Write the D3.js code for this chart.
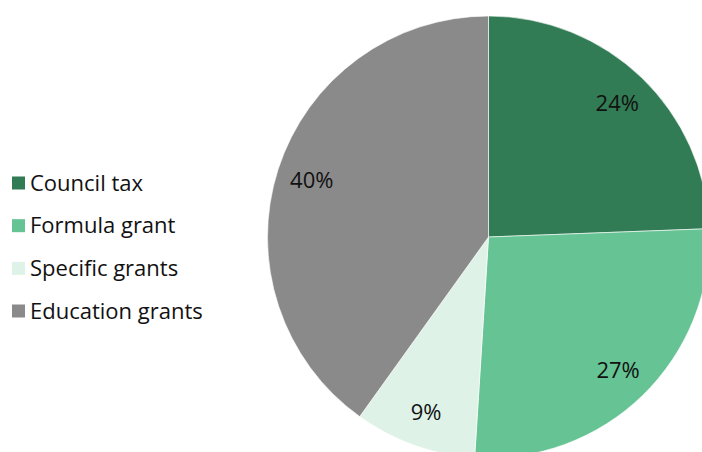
<!DOCTYPE html>
<html>
<head>
<meta charset="utf-8">
<script src="https://cdn.jsdelivr.net/npm/d3@7"></script>
<style>
  body { margin: 0; background: #fff; }
  svg { display: block; font-family: "Open Sans", "Noto Sans", sans-serif; }
</style>
</head>
<body>
<div class="chart"></div>
<script>
var categories = ['Council tax', 'Formula grant', 'Specific grants', 'Education grants'];
var shares = [24.4, 26.6, 8.9, 40.1];
var shareLabels = ['24%', '27%', '9%', '40%'];
var colours = ['#317c54', '#66c393', '#dff2e8', '#8a8a8a'];

var width = 702;
var height = 452;
var radius = 221;

var svg = d3.select('.chart')
    .append('svg')
    .attr('width', width)
    .attr('height', height);

var data = categories.map(function (c, i) {
    return { name: c, value: shares[i], label: shareLabels[i] };
});

var colour = d3.scaleOrdinal().domain(categories).range(colours);

var pie = d3.pie()
    .sort(null)
    .value(d => d.value);

var arc = d3.arc().innerRadius(0).outerRadius(radius);
var labelArc = d3.arc().innerRadius(radius * 0.84).outerRadius(radius * 0.84);

var g = svg.append('g')
    .attr('transform', 'translate(488.5, 237)');

var slices = g.selectAll('.slice')
    .data(pie(data))
    .enter()
    .append('g')
    .attr('class', 'slice');

slices.append('path')
    .attr('d', arc)
    .style('fill', d => colour(d.data.name))
    .style('stroke', '#fff')
    .style('stroke-width', 0.6);

slices.append('text')
    .attr('transform', d => `translate(${labelArc.centroid(d)})`)
    .attr('text-anchor', 'middle')
    .attr('dy', '0.35em')
    .style('font-size', '22px')
    .style('fill', '#111')
    .text(d => d.data.label);

// legend
var legendY = d3.scalePoint()
    .domain(categories)
    .range([183, 311]);

var legend = svg.selectAll('.legend')
    .data(categories)
    .enter()
    .append('g')
    .attr('class', 'legend')
    .attr('transform', d => `translate(12, ${legendY(d)})`);

legend.append('rect')
    .attr('x', 0)
    .attr('y', -6.5)
    .attr('width', 13)
    .attr('height', 13)
    .style('fill', d => colour(d));

legend.append('text')
    .attr('x', 18)
    .attr('dy', '0.35em')
    .style('font-size', '22px')
    .style('fill', '#111')
    .text(d => d);
</script>
</body>
</html>
